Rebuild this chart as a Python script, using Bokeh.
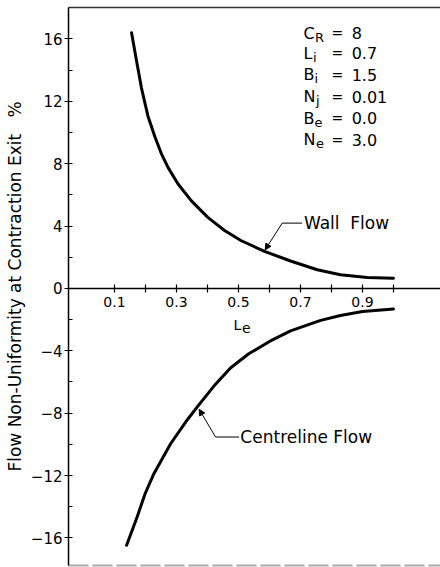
from bokeh.plotting import figure
from bokeh.models import (ColumnDataSource, FixedTicker, LinearAxis, Range1d,
                          Arrow, NormalHead, CustomJSTickFormatter)
from bokeh.core.properties import value
from bokeh.embed import file_html
from bokeh.resources import INLINE

# ---------------- data ----------------
wall_le = [0.155, 0.171, 0.187, 0.208, 0.230, 0.251, 0.273, 0.305, 0.348,
           0.401, 0.455, 0.509, 0.584, 0.668, 0.754, 0.829, 0.915, 1.000]
wall_pct = [16.40, 14.60, 12.85, 11.05, 9.75, 8.65, 7.75, 6.70, 5.62,
            4.56, 3.72, 3.06, 2.38, 1.76, 1.20, 0.88, 0.70, 0.66]

centre_le = [0.139, 0.173, 0.198, 0.227, 0.281, 0.335, 0.367, 0.420, 0.474,
             0.533, 0.600, 0.668, 0.765, 0.829, 0.900, 1.000]
centre_pct = [-16.47, -14.66, -13.20, -11.88, -9.96, -8.42, -7.60, -6.28, -5.10,
              -4.19, -3.40, -2.72, -2.05, -1.73, -1.48, -1.32]

y_major = [-16, -12, -8, -4, 0, 4, 8, 12, 16]
y_minor = [-14, -10, -6, -2, 2, 6, 10, 14]
x_major = [0.1, 0.3, 0.5, 0.7, 0.9]
x_minor = [0.2, 0.4, 0.6, 0.8, 1.0]

param_names = ["C", "L", "B", "N", "B", "N"]
param_subs = ["R", "i", "i", "j", "e", "e"]
param_values = ["8", "0.7", "1.5", "0.01", "0.0", "3.0"]

y_label = "Flow Non-Uniformity at Contraction Exit\u00a0\u00a0\u00a0%"

FONT = "DejaVu Sans"

# ---------------- layout ----------------
p = figure(width=440, height=567, output_backend="svg", toolbar_location=None,
           x_range=Range1d(-0.0484, 1.1516), y_range=Range1d(-17.77, 18.02),
           x_axis_type=None, y_axis_type=None,
           min_border_left=68, min_border_right=0, min_border_top=7,
           min_border_bottom=2, outline_line_color=None,
           background_fill_color="white", border_fill_color="white")

# left axis
yaxis = LinearAxis(ticker=FixedTicker(ticks=y_major, minor_ticks=y_minor),
                   formatter=CustomJSTickFormatter(
                       code="return tick < 0 ? '\\u2212' + (-tick) : String(tick);"),
                   axis_label=y_label)
yaxis.axis_line_color = "black"
yaxis.axis_line_width = 1.5
yaxis.major_tick_in = 4
yaxis.major_tick_out = 4
yaxis.minor_tick_in = 4
yaxis.minor_tick_out = 0
yaxis.major_tick_line_width = 1.2
yaxis.minor_tick_line_width = 1.2
yaxis.major_label_standoff = 2
yaxis.major_label_text_font = FONT
yaxis.major_label_text_font_size = "15px"
yaxis.major_label_text_color = "black"
yaxis.axis_label_text_font = FONT
yaxis.axis_label_text_font_size = "17px"
yaxis.axis_label_text_font_style = "normal"
yaxis.axis_label_text_color = "black"
yaxis.axis_label_standoff = 3
p.add_layout(yaxis, "left")

# x axis through zero
xaxis = LinearAxis(ticker=FixedTicker(ticks=x_major, minor_ticks=x_minor),
                   fixed_location=0)
xaxis.axis_line_color = "black"
xaxis.axis_line_width = 1.5
xaxis.major_tick_in = 4
xaxis.major_tick_out = 4
xaxis.minor_tick_in = 4
xaxis.minor_tick_out = 4
xaxis.major_tick_line_width = 1.2
xaxis.minor_tick_line_width = 1.2
xaxis.major_label_standoff = 5
xaxis.major_label_text_font = FONT
xaxis.major_label_text_font_size = "14px"
xaxis.major_label_text_color = "black"
p.add_layout(xaxis, "below")

# frame border lines (top and bottom)
for loc, color, dash, width in (("above", "#333333", "solid", 1.5),
                                ("below", "#aaaaaa", "20 4", 2)):
    ax = LinearAxis(ticker=FixedTicker(ticks=[]))
    ax.major_tick_in = 0
    ax.major_tick_out = 0
    ax.minor_tick_in = 0
    ax.minor_tick_out = 0
    ax.major_label_text_font_size = "0px"
    ax.axis_line_color = color
    ax.axis_line_dash = dash
    ax.axis_line_width = width
    p.add_layout(ax, loc)

# ---------------- curves ----------------
wall_src = ColumnDataSource(dict(le=wall_le, pct=wall_pct))
centre_src = ColumnDataSource(dict(le=centre_le, pct=centre_pct))
p.line("le", "pct", source=wall_src, line_width=3, line_color="black",
       line_join="round", line_cap="round")
p.line("le", "pct", source=centre_src, line_width=3, line_color="black",
       line_join="round", line_cap="round")

# ---------------- annotations ----------------
# Wall Flow
p.segment(x0=[0.705], y0=[4.19], x1=[0.641], y1=[4.19], line_color="black", line_width=1)
p.add_layout(Arrow(end=NormalHead(size=6, fill_color="black", line_color="black"),
                   x_start=0.641, y_start=4.19, x_end=0.586, y_end=2.48,
                   line_color="black", line_width=1))
p.text(x=[0.711], y=[4.19], text=["Wall\u00a0\u00a0Flow"], text_font=value(FONT),
       text_font_size="17px", text_baseline="middle", text_align="left",
       text_color="black")

# Centreline Flow
p.segment(x0=[0.502], y0=[-9.53], x1=[0.426], y1=[-9.53], line_color="black", line_width=1)
p.add_layout(Arrow(end=NormalHead(size=6, fill_color="black", line_color="black"),
                   x_start=0.426, y_start=-9.53, x_end=0.373, y_end=-7.75,
                   line_color="black", line_width=1))
p.text(x=[0.506], y=[-9.53], text=["Centreline Flow"], text_font=value(FONT),
       text_font_size="17px", text_baseline="middle", text_align="left",
       text_color="black")

# x axis label  L_e
p.text(x=[0.484], y=[-2.37], text=["L"], text_font=value(FONT),
       text_font_size="14px", text_baseline="alphabetic", text_align="left",
       text_color="black")
p.text(x=[0.484], y=[-2.37], text=["e"], text_font=value(FONT), x_offset=8.5,
       y_offset=2.5, text_font_size="14px", text_baseline="alphabetic",
       text_align="left", text_color="black")

# parameter block
rows_y = [16.38, 15.10, 13.72, 12.31, 10.93, 9.55]
sub_dx = [11.5, 9.5, 11.0, 12.5, 11.0, 12.5]
par_src = ColumnDataSource(dict(
    x=[0.71] * 6, xe=[0.80] * 6, xv=[0.865] * 6, y=rows_y,
    name=param_names, sub=param_subs, val=param_values,
    eq=["="] * 6, dx=sub_dx))
p.text(x="x", y="y", text="name", source=par_src, text_font=value(FONT),
       text_font_size="16px", text_baseline="middle", text_align="left",
       text_color="black")
p.text(x="x", y="y", text="sub", source=par_src, x_offset="dx", y_offset=4,
       text_font=value(FONT), text_font_size="13px", text_baseline="middle",
       text_align="left", text_color="black")
p.text(x="xe", y="y", text="eq", source=par_src, text_font=value(FONT),
       text_font_size="14px", text_baseline="middle", text_align="left",
       text_color="black")
p.text(x="xv", y="y", text="val", source=par_src, text_font=value(FONT),
       text_font_size="16px", text_baseline="middle", text_align="left",
       text_color="black")

open("out.html", "w").write(file_html(p, INLINE))
